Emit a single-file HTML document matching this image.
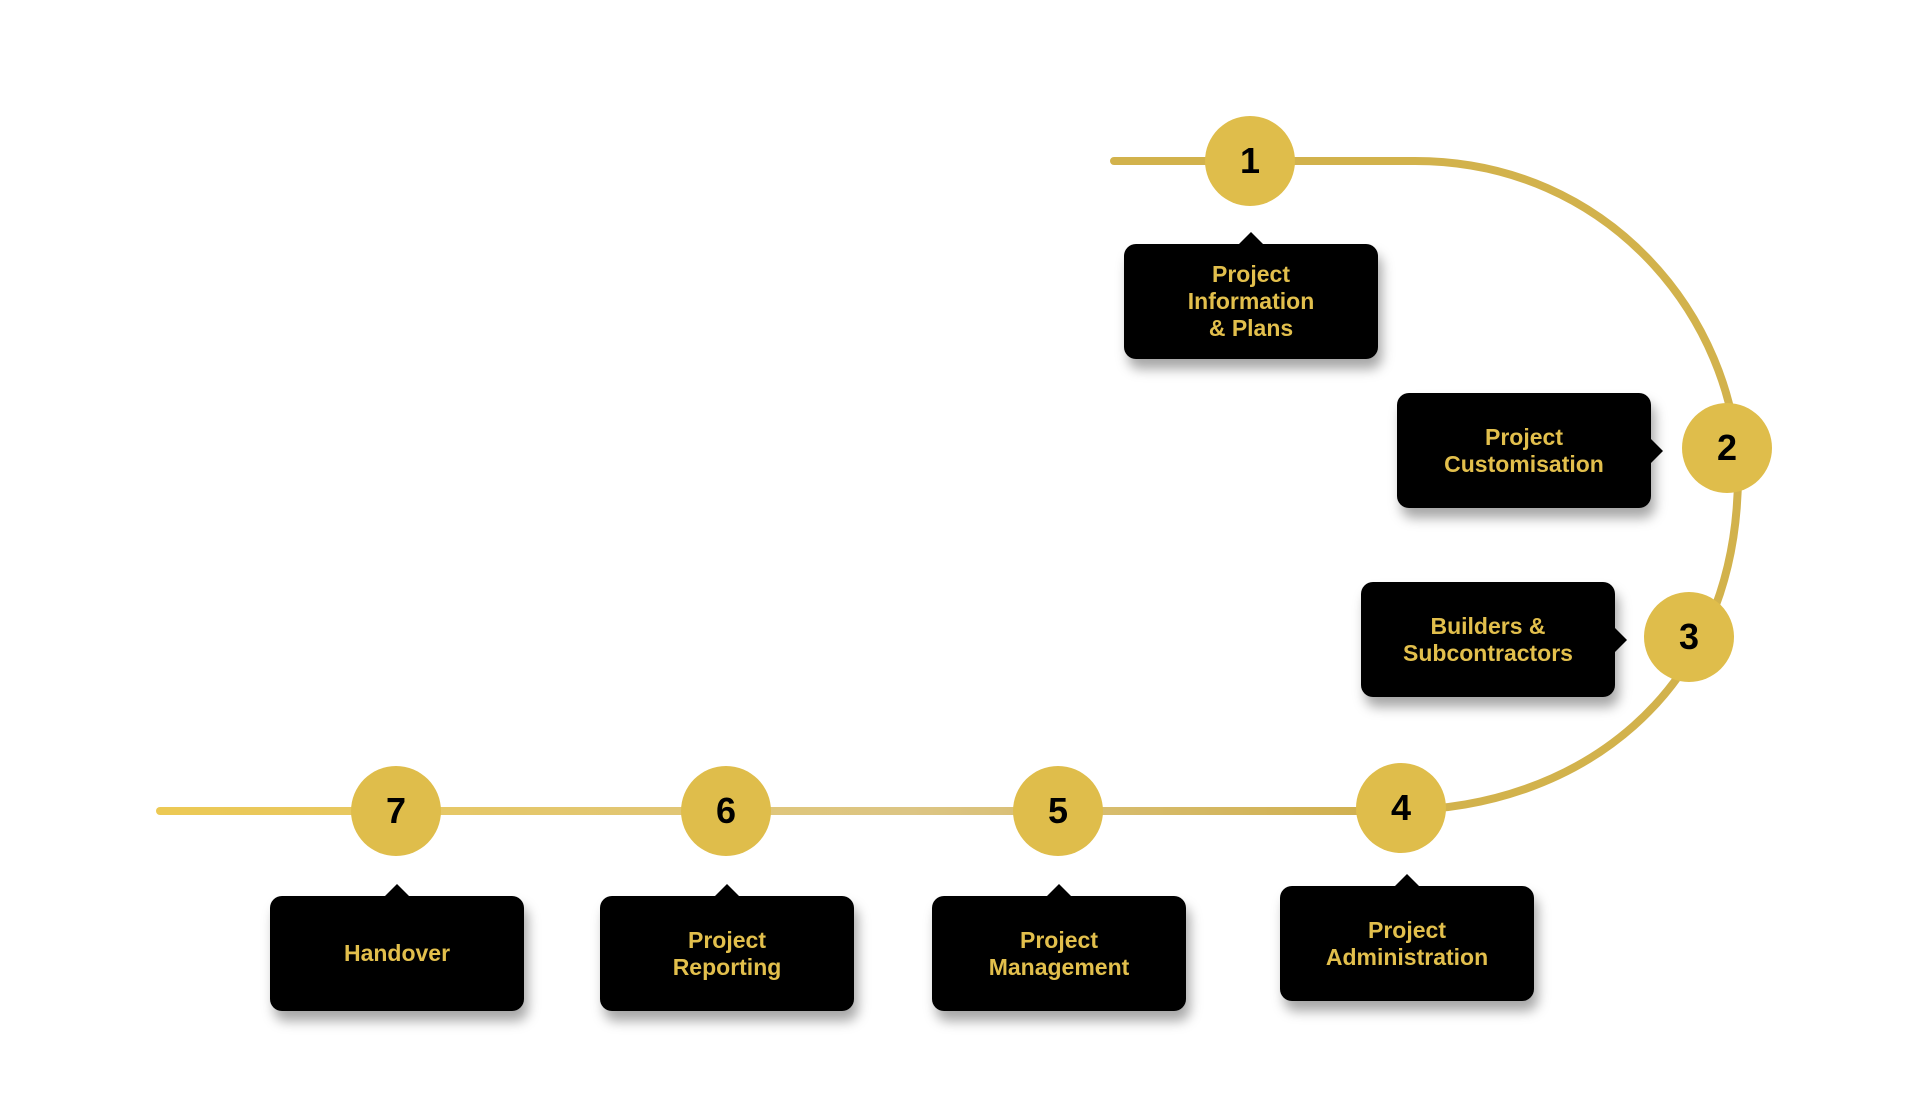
<!DOCTYPE html>
<html><head><meta charset="utf-8"><style>
html,body{margin:0;padding:0;background:#fff;}
body{width:1920px;height:1097px;position:relative;overflow:hidden;font-family:"Liberation Sans",sans-serif;}
.box{position:absolute;background:#000;border-radius:12px;box-shadow:4px 10px 12px rgba(0,0,0,0.35);color:#e2bf4c;font-weight:bold;font-size:23px;line-height:27px;text-align:center;display:flex;align-items:center;justify-content:center;}
.up::before{content:"";position:absolute;left:50%;top:-12px;margin-left:-13px;border-left:13px solid transparent;border-right:13px solid transparent;border-bottom:13px solid #000;}
.rt::after{content:"";position:absolute;top:50%;right:-12px;margin-top:-13px;border-top:13px solid transparent;border-bottom:13px solid transparent;border-left:13px solid #000;}
.c{position:absolute;width:90px;height:90px;border-radius:50%;background:#dfbd4b;color:#000;font-weight:bold;font-size:36px;display:flex;align-items:center;justify-content:center;}
</style></head><body>
<svg width="1920" height="1097" style="position:absolute;left:0;top:0">
<defs><linearGradient id="g" gradientUnits="userSpaceOnUse" x1="160" y1="0" x2="1410" y2="0"><stop offset="0" stop-color="#ecc954"/><stop offset="0.6" stop-color="#dcc584"/><stop offset="1" stop-color="#cfae4a"/></linearGradient></defs>
<path d="M1114,161 L1415,161 C1610,161 1735,320 1738,470 C1740,700 1570,809 1402,810" fill="none" stroke="#d2b24c" stroke-width="8" stroke-linecap="round"/>
<path d="M160,811 L1405,811" fill="none" stroke="url(#g)" stroke-width="8" stroke-linecap="round"/>
</svg>
<div class="c" style="left:1205px;top:116px">1</div>
<div class="c" style="left:1682px;top:403px">2</div>
<div class="c" style="left:1644px;top:592px">3</div>
<div class="c" style="left:1356px;top:763px">4</div>
<div class="c" style="left:1013px;top:766px">5</div>
<div class="c" style="left:681px;top:766px">6</div>
<div class="c" style="left:351px;top:766px">7</div>
<div class="box up" style="left:1124px;top:244px;width:254px;height:115px">Project<br>Information<br>&amp; Plans</div>
<div class="box rt" style="left:1397px;top:393px;width:254px;height:115px">Project<br>Customisation</div>
<div class="box rt" style="left:1361px;top:582px;width:254px;height:115px">Builders &amp;<br>Subcontractors</div>
<div class="box up" style="left:1280px;top:886px;width:254px;height:115px">Project<br>Administration</div>
<div class="box up" style="left:932px;top:896px;width:254px;height:115px">Project<br>Management</div>
<div class="box up" style="left:600px;top:896px;width:254px;height:115px">Project<br>Reporting</div>
<div class="box up" style="left:270px;top:896px;width:254px;height:115px">Handover</div>
</body></html>
